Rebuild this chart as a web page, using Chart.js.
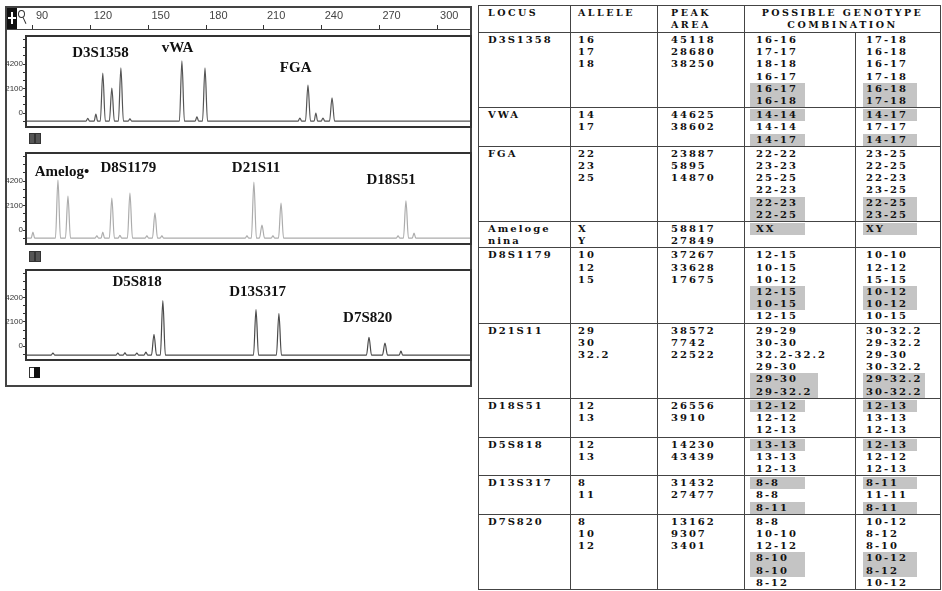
<!DOCTYPE html>
<html>
<head>
<meta charset="utf-8">
<script src="https://cdn.jsdelivr.net/npm/chart.js@4.4.1/dist/chart.umd.min.js"></script>
<style>
  body { margin: 0; width: 942px; height: 591px; background: #fff; position: relative; overflow: hidden; }
  .abs { position: absolute; }
  #frame { left: 5px; top: 6px; width: 467px; height: 381px; border: 2px solid #444; box-sizing: border-box; }
  #rulerLine { left: 7px; top: 29px; width: 463px; height: 0; border-top: 1.5px solid #444; }
  #zoomIcon { left: 7px; top: 8px; width: 10px; height: 21px; background: #111; }
  #zoomIcon::before { content: ''; position: absolute; left: 4px; top: 4px; width: 2px; height: 12px; background: #fff; }
  #zoomIcon::after { content: ''; position: absolute; left: 1px; top: 9px; width: 8px; height: 2px; background: #fff; }
  #lens { left: 18px; top: 10px; width: 5px; height: 6px; border: 1.2px solid #333; border-radius: 50%; }
  #lens::after { content: ''; position: absolute; left: 5px; top: 6px; width: 1.4px; height: 7px; background: #333; transform: rotate(-25deg); }
  .pIcon { left: 29px; width: 11px; height: 11px; }
  .pIcon i { position: absolute; top: 0; width: 4px; height: 9px; box-sizing: content-box; }
  .dark i { background: #555; border: 1px solid #333; }
  .dark i:first-child { left: 0; } .dark i:last-child { left: 6px; }
  .half i:first-child { left: 0; background: #fff; border: 1px solid #333; }
  .half i:last-child { left: 5px; background: #111; border: 1px solid #111; }
  canvas { position: absolute; }

  #tbl { position: absolute; left: 478px; top: 5px; border-collapse: collapse; table-layout: fixed;
         font: bold 10px "DejaVu Serif", serif; letter-spacing: 2px; color: #111; }
  #tbl td, #tbl th { border: 1.5px solid #444; vertical-align: top; padding: 1px 0 0 0; line-height: 12.2px;
         white-space: pre-line; text-align: left; font-weight: bold; }
  #tbl th { letter-spacing: 2.5px; font-size: 9.5px; padding: 1px 0 1px 0; line-height: 12px; }
  #tbl th.gt { text-align: center; }
  .c1 { padding-left: 9px !important; } .c2 { padding-left: 7px !important; } .c3 { padding-left: 13px !important; }
  .c4 { padding-left: 11px !important; } .c5 { padding-left: 10px !important; }
  .hl { display: block; width: fit-content; background: #c4c4c4; }
  .c4 .hl { margin-left: -6px; padding: 0 6px; min-width: 43px; }
  .c5 .hl { margin-left: -3px; padding: 0 3px; min-width: 48px; }
</style>
</head>
<body>
<div id="frame" class="abs"></div>
<div id="zoomIcon" class="abs"></div>
<div id="lens" class="abs"></div>
<div id="rulerLine" class="abs"></div>
<canvas id="ruler" width="445" height="23" style="left:26px; top:8px"></canvas>
<canvas id="p1" width="469" height="95" style="left:4px; top:34px"></canvas>
<div class="abs pIcon dark" style="top:133px"><i></i><i></i></div>
<canvas id="p2" width="469" height="95" style="left:4px; top:151px"></canvas>
<div class="abs pIcon dark" style="top:251px"><i></i><i></i></div>
<canvas id="p3" width="469" height="94" style="left:4px; top:268px"></canvas>
<div class="abs pIcon half" style="top:367px"><i></i><i></i></div>
<table id="tbl"></table>

<script>
// ---- electropherogram data (size in bp, height in RFU) ----
const rulerTicks = [90, 120, 150, 180, 210, 240, 270, 300];
const yLabels = [0, 2100, 4200];

const peaks1Bp  = [118.5, 122.7, 126.3, 131.0, 135.7, 140.4, 167.4, 175.2, 179.4, 228.7, 232.9, 237.0, 240.7, 245.4];
const peaks1Rfu = [-450, -100, 3430, 2140, 3860, -500, 4460, -340, 3860, -430, 2400, 0, -430, 1290];
const base1 = -690;
const loci1 = ['D3S1358', 'vWA', 'FGA'];

const peaks2Bp  = [90.0, 103.0, 108.2, 123.2, 126.3, 131.0, 135.2, 140.4, 149.2, 153.4, 157.0, 201.2, 204.8, 209.0, 214.7, 218.9, 279.7, 283.8, 288.0];
const peaks2Rfu = [-170, 4290, 2910, -500, -170, 2740, -450, 3170, -500, 1460, -500, -500, 4110, 430, -500, 2310, -500, 2490, -260];
const base2 = -690;
const loci2 = ['Amelog•', 'D8S1179', 'D21S11', 'D18S51'];

const peaks3Bp  = [100.4, 134.1, 137.8, 144.0, 148.7, 152.9, 157.5, 205.9, 217.8, 264.6, 272.9, 281.2];
const peaks3Rfu = [-600, -600, -580, -600, -520, 1030, 3940, 3170, 2830, 770, 260, -430];
const base3 = -770;
const loci3 = ['D5S818', 'D13S317', 'D7S820'];

// ---- genotype table ----
const tableLoci = ['D3S1358', 'VWA', 'FGA', 'Ameloge\nnina', 'D8S1179', 'D21S11', 'D18S51', 'D5S818', 'D13S317', 'D7S820'];
const alleles = [['16', '17', '18'], ['14', '17'], ['22', '23', '25'], ['X', 'Y'], ['10', '12', '15'],
                 ['29', '30', '32.2'], ['12', '13'], ['12', '13'], ['8', '11'], ['8', '10', '12']];
const peakAreas = [['45118', '28680', '38250'], ['44625', '38602'], ['23887', '5895', '14870'], ['58817', '27849'],
                   ['37267', '33628', '17675'], ['38572', '7742', '22522'], ['26556', '3910'], ['14230', '43439'],
                   ['31432', '27477'], ['13162', '9307', '3401']];
const genoA = [['16-16', '17-17', '18-18', '16-17', '16-17', '16-18'], ['14-14', '14-14', '14-17'],
               ['22-22', '23-23', '25-25', '22-23', '22-23', '22-25'], ['XX'],
               ['12-15', '10-15', '10-12', '12-15', '10-15', '12-15'],
               ['29-29', '30-30', '32.2-32.2', '29-30', '29-30', '29-32.2'], ['12-12', '12-12', '12-13'],
               ['13-13', '13-13', '12-13'], ['8-8', '8-8', '8-11'], ['8-8', '10-10', '12-12', '8-10', '8-10', '8-12']];
const genoB = [['17-18', '16-18', '16-17', '17-18', '16-18', '17-18'], ['14-17', '17-17', '14-17'],
               ['23-25', '22-25', '22-23', '23-25', '22-25', '23-25'], ['XY'],
               ['10-10', '12-12', '15-15', '10-12', '10-12', '10-15'],
               ['30-32.2', '29-32.2', '29-30', '30-32.2', '29-32.2', '30-32.2'], ['12-13', '13-13', '12-13'],
               ['12-13', '12-12', '12-13'], ['8-11', '11-11', '8-11'], ['10-12', '8-12', '8-10', '10-12', '8-12', '10-12']];
const shaded = [[4, 5], [0, 2], [4, 5], [0], [3, 4], [4, 5], [0], [0], [0, 2], [3, 4]];

// ---- chart setup ----
const X_MIN = 86.4, X_MAX = 317.6, Y_MIN = -1200, Y_MAX = 6600;
const yMinor = [];
for (let v = -700; v <= 6300; v += 700) yMinor.push(v);

Chart.defaults.font.family = "'Liberation Sans', Arial, sans-serif";
Chart.defaults.animation = false;

function trace(bp, rfu, base) {
    const pts = [{ x: X_MIN, y: base }];
    bp.forEach((p, i) => {
        const w = rfu[i] > 0 ? 1.3 : 0.9;
        pts.push({ x: p - w, y: base }, { x: p, y: rfu[i] }, { x: p + w, y: base });
    });
    pts.push({ x: X_MAX, y: base });
    return pts;
}

const boxPlugin = {
    id: 'box',
    afterDraw(chart) {
        const { ctx, chartArea: a } = chart;
        ctx.save();
        ctx.strokeStyle = '#333';
        ctx.lineWidth = 2;
        ctx.strokeRect(a.left, a.top, a.right - a.left, a.bottom - a.top);
        ctx.restore();
    },
};

const lociPlugin = {
    id: 'loci',
    afterDatasetsDraw(chart, args, opts) {
        const { ctx, scales } = chart;
        ctx.save();
        ctx.font = 'bold 15px "Liberation Serif", "Times New Roman", serif';
        ctx.fillStyle = '#111';
        ctx.textAlign = 'center';
        ctx.textBaseline = 'middle';
        opts.names.forEach((n, i) => {
            ctx.fillText(n, scales.x.getPixelForValue(opts.at[i][0]), scales.y.getPixelForValue(opts.at[i][1]));
        });
        ctx.restore();
    },
};

function panel(id, points, color, names, at) {
    return new Chart(document.getElementById(id), {
        type: 'line',
        data: { datasets: [{ data: points, borderColor: color, borderWidth: 1.2, pointRadius: 0,
                             cubicInterpolationMode: 'monotone', fill: false }] },
        options: {
            responsive: false,
            devicePixelRatio: 1,
            layout: { padding: { top: 2, bottom: 2, right: 2, left: 0 } },
            plugins: { legend: { display: false }, tooltip: { enabled: false }, loci: { names, at } },
            scales: {
                x: { type: 'linear', min: X_MIN, max: X_MAX, display: false },
                y: {
                    min: Y_MIN, max: Y_MAX,
                    afterBuildTicks: (s) => { s.ticks = yMinor.map(v => ({ value: v })); },
                    afterFit: (s) => { s.width = 22; s.paddingTop = 0; s.paddingBottom = 0; },
                    ticks: { autoSkip: false, padding: 0, color: '#333', font: { size: 8 },
                             callback: (v) => yLabels.includes(v) ? String(v) : '' },
                    grid: { drawOnChartArea: false, tickLength: 3, color: '#333' },
                    border: { display: false },
                },
            },
        },
        plugins: [boxPlugin, lociPlugin],
    });
}

new Chart(document.getElementById('ruler'), {
    type: 'line',
    data: { datasets: [{ data: [] }] },
    options: {
        responsive: false,
        devicePixelRatio: 1,
        layout: { padding: 0 },
        plugins: { legend: { display: false }, tooltip: { enabled: false } },
        scales: {
            x: {
                type: 'linear', position: 'top', min: X_MIN, max: X_MAX,
                afterBuildTicks: (s) => { s.ticks = rulerTicks.map(v => ({ value: v })); },
                afterFit: (s) => { s.height = 21; s.paddingLeft = 0; s.paddingRight = 0; },
                ticks: { autoSkip: false, maxRotation: 0, align: 'start', labelOffset: 3, padding: 2,
                         color: '#444', font: { size: 11 } },
                grid: { drawOnChartArea: false, tickLength: 4, color: '#333' },
                border: { display: false },
            },
            y: { display: false },
        },
    },
});

panel('p1', trace(peaks1Bp, peaks1Rfu, base1), '#555', loci1,
      [[125.1, 5140], [165.1, 5570], [226.5, 3860]]);
panel('p2', trace(peaks2Bp, peaks2Rfu, base2), '#acacac', loci2,
      [[105.1, 4970], [139.6, 5270], [205.9, 5270], [276.1, 4240]]);
panel('p3', trace(peaks3Bp, peaks3Rfu, base3), '#4a4a4a', loci3,
      [[144.1, 5510], [206.7, 4690], [263.9, 2440]]);

// ---- table ----
function lines(list) { return list.map(t => `<div>${t}</div>`).join(''); }
function geno(list, marks) {
    let html = '', group = [];
    const flush = () => { if (group.length) { html += `<div class="hl">${lines(group)}</div>`; group = []; } };
    list.forEach((g, j) => {
        if (marks.includes(j)) {
            if (group.length && !marks.includes(j - 1)) flush();
            group.push(g);
        } else { flush(); html += `<div>${g}</div>`; }
    });
    flush();
    return html;
}
let html = '<colgroup><col style="width:92px"><col style="width:87px"><col style="width:87px">' +
           '<col style="width:111px"><col style="width:85px"></colgroup>' +
           '<tr><th class="c1">LOCUS</th><th class="c2">ALLELE</th><th class="c3">PEAK\nAREA</th>' +
           '<th class="gt" colspan="2">POSSIBLE GENOTYPE\nCOMBINATION</th></tr>';
tableLoci.forEach((locus, i) => {
    html += `<tr><td class="c1">${locus}</td><td class="c2">${lines(alleles[i])}</td>` +
            `<td class="c3">${lines(peakAreas[i])}</td><td class="c4">${geno(genoA[i], shaded[i])}</td>` +
            `<td class="c5">${geno(genoB[i], shaded[i])}</td></tr>`;
});
document.getElementById('tbl').innerHTML = html;
</script>
</body>
</html>
